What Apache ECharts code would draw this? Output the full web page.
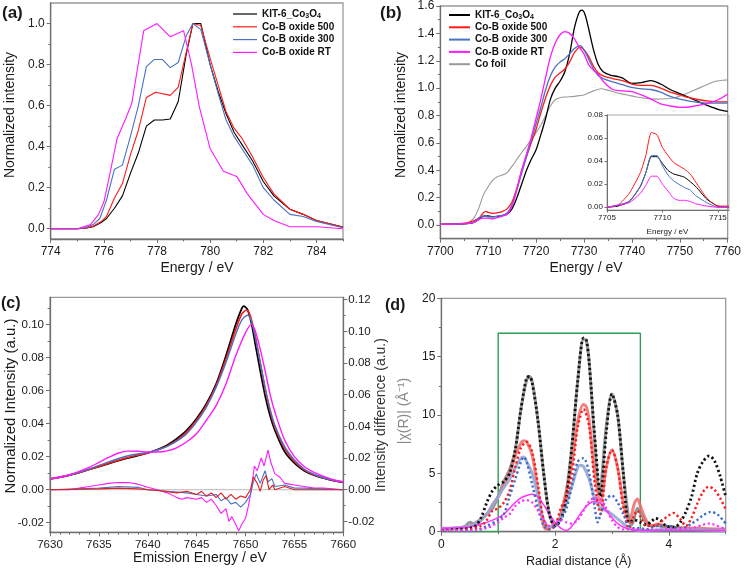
<!DOCTYPE html>
<html><head><meta charset="utf-8">
<script src="https://cdn.jsdelivr.net/npm/echarts@6/dist/echarts.min.js"></script>
<style>html,body{margin:0;padding:0;background:#fff}#c{width:744px;height:571px}</style>
</head><body><div id="c"></div>
<script>
// ---------- DATA ----------
// (a) L-edge XAS
const aKIT=[[774,0],[775,0],[775.3,0.003],[775.6,0.01],[775.9,0.03],[776.1,0.05],[776.4,0.10],[776.7,0.16],[777,0.27],[777.3,0.37],[777.6,0.50],[777.9,0.53],[778.2,0.53],[778.5,0.535],[778.8,0.62],[779.1,0.85],[779.35,1.0],[779.65,1.0],[780,0.80],[780.3,0.67],[780.6,0.56],[780.9,0.47],[781.2,0.41],[781.6,0.33],[782,0.23],[782.4,0.16],[783,0.095],[783.5,0.07],[784,0.04],[785,0.008]];
const a500=[[774,0],[775,0],[775.3,0.003],[775.6,0.012],[775.9,0.035],[776.1,0.06],[776.4,0.15],[776.7,0.22],[777,0.36],[777.3,0.48],[777.6,0.64],[777.95,0.665],[778.5,0.65],[778.8,0.69],[779.1,0.86],[779.35,1.0],[779.65,0.99],[780,0.83],[780.3,0.70],[780.6,0.57],[780.9,0.49],[781.2,0.44],[781.6,0.35],[782,0.25],[782.4,0.17],[783,0.095],[783.5,0.07],[784,0.04],[785,0.008]];
const a300=[[774,0],[775,0],[775.3,0.005],[775.6,0.02],[775.85,0.05],[776.1,0.14],[776.4,0.29],[776.7,0.31],[777,0.45],[777.3,0.60],[777.6,0.79],[777.9,0.825],[778.2,0.825],[778.5,0.785],[778.8,0.81],[779.1,0.94],[779.35,1.0],[779.65,0.97],[780,0.80],[780.3,0.66],[780.6,0.53],[780.9,0.45],[781.2,0.39],[781.6,0.31],[782,0.20],[782.4,0.14],[783,0.07],[783.5,0.06],[784,0.035],[785,0.005]];
const aRT=[[774,0],[775,0],[775.5,0.02],[775.8,0.07],[776,0.13],[776.2,0.25],[776.5,0.44],[776.8,0.53],[777.05,0.61],[777.5,0.965],[778,1.0],[778.5,0.935],[779,0.965],[779.3,0.80],[779.6,0.59],[780,0.39],[780.5,0.28],[781,0.255],[781.4,0.17],[782,0.07],[782.4,0.04],[783,0.01],[784,0.01],[785,0.0]];
// (b) K-edge XANES
const bKIT=[[7700,0.005],[7704,0.008],[7706,0.012],[7707,0.02],[7708,0.04],[7709,0.065],[7710,0.066],[7711,0.06],[7712,0.063],[7713,0.07],[7714,0.08],[7715,0.12],[7716,0.2],[7717,0.3],[7718,0.4],[7719,0.48],[7720,0.55],[7721,0.66],[7722,0.78],[7723,0.92],[7724,1.0],[7725,1.05],[7726,1.12],[7727,1.25],[7728,1.44],[7729,1.555],[7729.6,1.57],[7730.2,1.54],[7731,1.43],[7732,1.28],[7733,1.17],[7734,1.12],[7735.5,1.095],[7737,1.085],[7738,1.075],[7740,1.035],[7742,1.04],[7744,1.055],[7746,1.03],[7748,0.99],[7750,0.96],[7752,0.93],[7754,0.90],[7756,0.87],[7758,0.845],[7760,0.83]];
const b500=[[7700,0.005],[7704,0.01],[7706,0.02],[7708,0.05],[7709,0.09],[7709.5,0.10],[7710,0.092],[7711,0.085],[7712,0.09],[7713,0.10],[7714,0.12],[7715,0.17],[7716,0.27],[7717,0.40],[7718,0.50],[7719,0.60],[7720,0.70],[7721,0.82],[7722,0.93],[7723,1.02],[7724,1.08],[7725,1.11],[7726,1.14],[7727,1.19],[7728,1.26],[7729.2,1.30],[7730,1.28],[7731,1.23],[7732,1.16],[7733,1.11],[7734,1.09],[7736,1.07],[7738,1.055],[7740,1.03],[7742,1.02],[7744,1.02],[7746,1.0],[7748,0.97],[7750,0.95],[7752,0.93],[7754,0.915],[7756,0.905],[7758,0.90],[7760,0.90]];
const b300=[[7700,0.005],[7704,0.008],[7707,0.02],[7708,0.05],[7709,0.065],[7710,0.06],[7711,0.06],[7712,0.065],[7713,0.07],[7714,0.09],[7715,0.15],[7716,0.26],[7717,0.38],[7718,0.50],[7719,0.62],[7720,0.74],[7721,0.86],[7722,0.99],[7723,1.09],[7724,1.155],[7725,1.19],[7726,1.215],[7727,1.25],[7728,1.29],[7729.2,1.31],[7730,1.28],[7731,1.21],[7732,1.14],[7733,1.09],[7734,1.07],[7736,1.045],[7738,1.025],[7740,1.005],[7742,0.995],[7744,0.99],[7746,0.97],[7748,0.94],[7750,0.92],[7752,0.905],[7754,0.895],[7756,0.89],[7758,0.89],[7760,0.89]];
const bRT=[[7700,0.005],[7704,0.008],[7707,0.02],[7708,0.04],[7709,0.05],[7710,0.05],[7711,0.045],[7712,0.055],[7713,0.065],[7714,0.08],[7715,0.14],[7716,0.26],[7717,0.40],[7718,0.52],[7719,0.64],[7720,0.78],[7721,0.92],[7722,1.08],[7723,1.23],[7724,1.33],[7725,1.39],[7726,1.413],[7727,1.40],[7728,1.36],[7729,1.30],[7730,1.25],[7731,1.17],[7732,1.13],[7733,1.10],[7734,1.05],[7736,0.99],[7738,0.98],[7740,0.975],[7742,0.95],[7744,0.92],[7746,0.885],[7748,0.87],[7750,0.86],[7752,0.862],[7754,0.875],[7756,0.89],[7758,0.915],[7760,0.955]];
const bFoil=[[7700,0.005],[7705,0.01],[7706,0.02],[7707,0.05],[7708,0.12],[7709,0.22],[7710,0.28],[7711,0.33],[7712,0.355],[7713,0.365],[7714,0.385],[7715,0.43],[7716,0.48],[7717,0.53],[7718,0.575],[7719,0.625],[7720,0.675],[7721,0.73],[7722,0.80],[7723,0.87],[7724,0.915],[7725,0.93],[7726,0.935],[7728,0.94],[7729,0.945],[7730,0.95],[7732,0.98],[7733.6,0.995],[7735,0.985],[7737,0.965],[7739,0.95],[7741,0.935],[7743,0.925],[7745,0.92],[7747,0.922],[7749,0.93],[7751,0.955],[7753,0.985],[7755,1.015],[7757,1.045],[7759,1.058],[7760,1.06]];
// (b) inset: pre-edge
const iKIT=[[7705,0],[7706,0.001],[7707,0.005],[7708,0.018],[7708.5,0.03],[7709,0.044],[7709.5,0.044],[7710,0.038],[7710.5,0.032],[7711,0.029],[7712,0.026],[7713,0.018],[7714,0.007],[7715,0.001],[7716,0]];
const i500=[[7705,0],[7706,0.002],[7707,0.012],[7708,0.03],[7708.5,0.045],[7709,0.065],[7709.5,0.063],[7710,0.052],[7710.5,0.045],[7711,0.039],[7712,0.033],[7712.5,0.029],[7713,0.022],[7714,0.008],[7715,0.001],[7716,0.001]];
const i300=[[7705,0],[7707,0.005],[7708,0.018],[7708.5,0.03],[7709,0.045],[7709.5,0.045],[7710,0.036],[7710.5,0.028],[7711,0.023],[7712,0.017],[7712.5,0.015],[7713,0.01],[7714,0.004],[7715,0.0],[7716,0]];
const iRT=[[7705,0],[7707,0.004],[7708,0.012],[7708.5,0.019],[7709,0.027],[7709.5,0.027],[7710,0.02],[7710.5,0.014],[7711,0.008],[7711.5,0.006],[7712,0.006],[7712.5,0.005],[7713,0.003],[7714,0.001],[7715,0],[7716,0]];
// (c) Kbeta emission
const cKIT=[[7630,0.0065],[7632,0.0088],[7634,0.0122],[7636,0.0158],[7638,0.0192],[7640,0.0222],[7641,0.0243],[7642,0.027],[7643,0.031],[7644,0.036],[7645,0.043],[7646,0.052],[7647,0.064],[7648,0.081],[7649,0.100],[7649.5,0.108],[7649.8,0.111],[7650.2,0.109],[7650.6,0.101],[7651,0.088],[7651.5,0.072],[7652,0.057],[7652.5,0.045],[7653,0.036],[7654,0.023],[7655,0.016],[7656,0.0115],[7657,0.0088],[7658,0.007],[7659,0.0055],[7660,0.0045]];
const c500=[[7630,0.0065],[7632,0.0088],[7634,0.0122],[7636,0.016],[7638,0.0195],[7640,0.0222],[7641,0.024],[7642,0.0265],[7643,0.030],[7644,0.035],[7645,0.042],[7646,0.051],[7647,0.063],[7648,0.079],[7649,0.097],[7649.6,0.106],[7650.1,0.1087],[7650.5,0.105],[7651,0.093],[7651.5,0.077],[7652,0.061],[7652.5,0.048],[7653,0.038],[7654,0.025],[7655,0.017],[7656,0.012],[7657,0.009],[7658,0.007],[7659,0.0055],[7660,0.0045]];
const c300=[[7630,0.0065],[7632,0.0088],[7634,0.0125],[7636,0.0168],[7638,0.0205],[7640,0.0225],[7641,0.024],[7642,0.0262],[7643,0.0295],[7644,0.034],[7645,0.041],[7646,0.050],[7647,0.062],[7648,0.077],[7649,0.094],[7649.6,0.1025],[7650.2,0.1055],[7650.6,0.102],[7651,0.092],[7651.5,0.077],[7652,0.062],[7652.5,0.049],[7653,0.039],[7654,0.026],[7655,0.018],[7656,0.0125],[7657,0.0093],[7658,0.0072],[7659,0.0057],[7660,0.0046]];
const cRT=[[7630,0.0065],[7632,0.009],[7634,0.0135],[7635,0.0165],[7636,0.0195],[7637,0.0222],[7638,0.0233],[7639,0.0232],[7640,0.0228],[7641,0.0228],[7642,0.0235],[7643,0.0255],[7644,0.029],[7645,0.034],[7646,0.042],[7647,0.051],[7648,0.064],[7649,0.081],[7650,0.095],[7650.6,0.1],[7651,0.096],[7651.5,0.085],[7652,0.072],[7652.5,0.058],[7653,0.047],[7654,0.030],[7655,0.020],[7656,0.014],[7657,0.0105],[7658,0.008],[7659,0.006],[7660,0.0048]];
// (c) difference spectra (right axis)
const dRT=[[7630,0],[7632,0],[7633,0.001],[7634,0.002],[7635,0.003],[7636,0.004],[7637,0.0045],[7638,0.0045],[7639,0.0035],[7640,0.0015],[7641,0],[7642,-0.002],[7643,-0.005],[7643.5,-0.006],[7644,-0.005],[7645,-0.006],[7645.5,-0.005],[7646,-0.008],[7646.5,-0.006],[7647,-0.01],[7647.5,-0.015],[7648,-0.012],[7648.3,-0.02],[7648.6,-0.017],[7649,-0.022],[7649.3,-0.026],[7649.6,-0.022],[7650,-0.018],[7650.3,-0.01],[7650.6,0],[7650.9,0.015],[7651.2,0.012],[7651.6,0.02],[7651.9,0.015],[7652.3,0.025],[7652.6,0.017],[7653,0.01],[7653.5,0.008],[7654,0.004],[7655,0.003],[7656,0.002],[7657,0.001],[7658,0.001],[7660,0]];
const d300=[[7630,0],[7635,0.001],[7637,0.002],[7639,0.0015],[7640,0],[7642,-0.001],[7644,-0.002],[7645,-0.003],[7646,-0.004],[7647,-0.003],[7647.5,-0.007],[7648,-0.005],[7648.5,-0.009],[7649,-0.008],[7649.5,-0.011],[7650,-0.008],[7650.5,-0.003],[7650.8,0.005],[7651.1,0.01],[7651.5,0.004],[7652,0.012],[7652.3,0.005],[7652.7,0.007],[7653,0.002],[7654,0.003],[7655,0.001],[7656,0.001],[7660,0]];
const d500=[[7630,0],[7635,0.0005],[7637,0.001],[7639,0.0005],[7641,-0.0005],[7643,-0.002],[7644,-0.001],[7645,-0.003],[7645.5,-0.001],[7646,-0.004],[7646.5,-0.002],[7647,-0.005],[7647.5,-0.002],[7648,-0.006],[7648.5,-0.003],[7649,-0.006],[7649.5,-0.004],[7650,-0.005],[7650.5,0],[7650.8,0.008],[7651.2,0.004],[7651.5,-0.001],[7651.8,0.006],[7652.1,0.009],[7652.4,0],[7652.8,0.003],[7653,0],[7654,0.002],[7655,0],[7660,0]];
const dZero=[[7630,0],[7660,0]];
// (d) FT-EXAFS |chi(R)|: solid = data, dotted = fits
const rKIT=[[0,0.2],[0.2,0.3],[0.4,0.4],[0.5,0.8],[0.6,0.6],[0.7,1.0],[0.8,1.5],[0.9,2.0],[1.0,3.0],[1.1,4.3],[1.2,5.3],[1.3,7.0],[1.4,10.5],[1.5,13.0],[1.55,13.3],[1.6,12.8],[1.7,9.5],[1.8,5.0],[1.9,1.5],[2.0,0.5],[2.1,1.2],[2.2,3.5],[2.3,7.5],[2.4,13.0],[2.5,16.5],[2.55,16.4],[2.6,14.5],[2.7,7.5],[2.78,3.2],[2.9,9.0],[3.0,11.8],[3.1,10.0],[3.2,5.0],[3.3,1.0],[3.35,0.6],[3.45,2.0],[3.55,1.2],[3.65,0.5],[3.8,0.5],[4.0,0.3],[4.5,0.2],[5.0,0.1]];
const r500=[[0,0.2],[0.5,0.5],[0.8,1.5],[0.9,2.3],[1.0,3.0],[1.1,4.0],[1.2,5.0],[1.3,6.5],[1.4,7.6],[1.45,7.8],[1.5,7.7],[1.6,6.5],[1.7,3.5],[1.8,0.5],[1.85,0.2],[1.95,0.5],[2.05,0.7],[2.1,1.5],[2.2,3.5],[2.3,6.0],[2.4,9.5],[2.5,10.9],[2.55,10.7],[2.6,9.5],[2.7,5.0],[2.8,2.5],[2.9,5.5],[3.0,7.0],[3.1,5.5],[3.2,2.5],[3.3,0.8],[3.4,2.5],[3.45,2.8],[3.5,2.2],[3.6,1.0],[3.7,0.5],[3.8,0.65],[3.9,0.55],[4.0,0.4],[4.5,0.3],[5.0,0.2]];
const r300=[[0,0.3],[0.5,0.5],[0.8,1.5],[0.9,2.3],[1.0,3.0],[1.1,3.8],[1.2,4.5],[1.3,5.5],[1.4,6.3],[1.45,6.4],[1.5,6.0],[1.6,5.0],[1.7,3.0],[1.8,1.0],[1.9,0.4],[2.0,0.5],[2.1,1.2],[2.2,2.5],[2.3,4.0],[2.4,5.5],[2.45,5.7],[2.5,5.6],[2.6,4.5],[2.7,2.8],[2.8,2.0],[2.9,1.8],[3.0,1.5],[3.1,1.1],[3.2,0.7],[3.3,0.3],[3.5,0.1],[4.0,0.2],[5.0,0.1]];
const rRT=[[0,0.3],[0.5,0.4],[0.8,0.8],[1.0,1.2],[1.1,1.5],[1.2,2.0],[1.3,2.5],[1.4,2.9],[1.5,3.1],[1.6,3.2],[1.7,3.0],[1.8,2.3],[1.9,1.5],[2.0,0.8],[2.1,0.3],[2.2,0.1],[2.3,0.5],[2.4,1.2],[2.5,1.9],[2.6,2.4],[2.7,2.6],[2.8,2.4],[2.9,1.8],[3.0,1.2],[3.1,0.7],[3.2,0.4],[3.3,0.2],[3.5,0.1],[5.0,0.1]];
const fKIT=[[0,0.1],[0.3,0.2],[0.5,0.3],[0.6,0.5],[0.7,1.2],[0.8,2.5],[0.9,3.5],[1.0,4.0],[1.1,4.3],[1.2,5.0],[1.3,7.0],[1.4,10.5],[1.5,13.2],[1.55,13.3],[1.6,12.7],[1.7,9.5],[1.8,5.0],[1.9,1.5],[2.0,0.5],[2.1,1.0],[2.2,3.0],[2.3,7.5],[2.4,13.0],[2.5,16.6],[2.55,16.4],[2.6,14.5],[2.7,8.0],[2.8,3.0],[2.9,8.5],[3.0,11.8],[3.1,10.0],[3.2,5.0],[3.3,0.8],[3.4,1.0],[3.5,0.8],[3.6,0.6],[3.7,0.9],[3.76,1.15],[3.85,1.0],[3.95,0.5],[4.1,0.4],[4.2,0.8],[4.3,1.7],[4.4,3.0],[4.5,5.0],[4.6,6.0],[4.71,6.5],[4.8,6.1],[4.9,4.8],[5.0,3.0]];
const f500=[[0,0.1],[0.5,0.2],[0.7,0.5],[0.8,1.0],[0.9,1.8],[1.0,2.0],[1.1,2.5],[1.2,3.5],[1.3,5.5],[1.4,7.2],[1.5,7.7],[1.6,6.8],[1.7,4.0],[1.8,1.0],[1.9,0.2],[2.0,0.5],[2.1,2.0],[2.2,3.0],[2.3,5.0],[2.4,9.0],[2.5,10.5],[2.6,9.0],[2.7,4.0],[2.8,1.5],[2.9,5.5],[3.0,7.0],[3.1,5.5],[3.2,2.0],[3.3,0.3],[3.4,1.5],[3.45,1.8],[3.5,1.3],[3.6,0.5],[3.7,0.5],[3.8,0.6],[3.9,1.0],[4.0,1.4],[4.08,1.6],[4.2,1.1],[4.3,0.5],[4.4,1.2],[4.5,2.4],[4.6,3.4],[4.7,3.85],[4.8,3.6],[4.9,2.9],[5.0,1.9]];
const f300=[[0,0.1],[0.6,0.1],[0.8,0.5],[1.0,1.0],[1.1,1.5],[1.2,3.0],[1.3,4.5],[1.4,6.0],[1.45,6.4],[1.5,6.0],[1.6,4.0],[1.7,2.0],[1.8,0.5],[1.9,0.2],[2.0,0.5],[2.1,1.0],[2.2,2.0],[2.3,4.0],[2.4,6.0],[2.5,6.3],[2.6,5.0],[2.7,2.0],[2.75,0.8],[2.8,1.5],[2.9,2.8],[3.0,3.1],[3.1,2.5],[3.2,1.5],[3.3,0.5],[3.4,0.3],[3.5,0.3],[3.6,0.2],[3.8,0.5],[4.0,0.5],[4.2,0.3],[4.3,0.4],[4.4,0.7],[4.5,1.0],[4.6,1.4],[4.74,1.7],[4.85,1.5],[4.95,1.0],[5.0,0.7]];
const fRT=[[0,0.1],[0.5,0.1],[0.8,0.3],[1.0,0.8],[1.1,1.2],[1.2,1.5],[1.3,2.2],[1.4,2.6],[1.5,2.7],[1.6,2.5],[1.7,1.8],[1.8,1.0],[1.9,0.5],[2.0,0.8],[2.1,1.0],[2.2,0.8],[2.3,0.7],[2.4,1.0],[2.5,1.8],[2.6,2.6],[2.7,2.9],[2.8,2.8],[2.9,2.0],[3.0,1.0],[3.1,0.4],[3.2,0.2],[3.4,0.2],[3.6,0.1],[4.0,0.2],[4.4,0.3],[4.6,0.6],[4.7,0.7],[4.8,0.6],[5.0,0.2]];
const rWindow=[[0,0],[1,0],[1,17],[3.5,17],[3.5,0],[5,0]];
// tick values
const aXTicks=[774,776,778,780,782,784], aXMinor=[775,777,779,781,783,785];
const aYTicks=[0,0.2,0.4,0.6,0.8,1.0], aYMinor=[0.1,0.3,0.5,0.7,0.9];
const bXTicks=[7700,7710,7720,7730,7740,7750,7760], bXMinor=[7705,7715,7725,7735,7745,7755];
const bYTicks=[0,0.2,0.4,0.6,0.8,1.0,1.2,1.4,1.6], bYMinor=[0.1,0.3,0.5,0.7,0.9,1.1,1.3,1.5];
const iXTicks=[7705,7710,7715], iYTicks=[0,0.02,0.04,0.06,0.08];
const cXTicks=[7630,7635,7640,7645,7650,7655,7660];
const cXMinor=[7631,7632,7633,7634,7636,7637,7638,7639,7641,7642,7643,7644,7646,7647,7648,7649,7651,7652,7653,7654,7656,7657,7658,7659];
const cYTicks=[-0.02,0,0.02,0.04,0.06,0.08,0.10], cYMinor=[-0.01,0.01,0.03,0.05,0.07,0.09,0.11];
const cY2Ticks=[-0.02,0,0.02,0.04,0.06,0.08,0.10,0.12], cY2Minor=[-0.01,0.01,0.03,0.05,0.07,0.09,0.11];
const dXTicks=[0,2,4], dXMinor=[1,3,5];
const dYTicks=[0,5,10,15,20], dYMinor=[2.5,7.5,12.5,17.5];

// ---------- CHART ----------
const FONT="'Liberation Sans', Arial, Helvetica, sans-serif";
const AX='#707070';
const C={k:'#000000',r:'#ff1a1a',b:'#4a72c2',m:'#ff1aff',g:'#9a9a9a'};
const xAxes=[], yAxes=[];
function addAxis(list,o){
  const idx=list.length;
  list.push({type:'value',gridIndex:o.grid,min:o.min,max:o.max,position:o.pos,
    axisLine:{show:true,onZero:false,lineStyle:{color:AX,width:o.lw||1.3}},
    axisTick:{show:true,inside:false,length:o.tl||4,customValues:o.major,lineStyle:{color:AX,width:1}},
    axisLabel:{show:true,customValues:o.major,fontSize:o.fs,color:'#1a1a1a',margin:o.margin,fontFamily:FONT,formatter:o.fmt},
    splitLine:{show:false},minorTick:{show:false},axisPointer:{show:false}});
  if(o.minor){
    list.push({type:'value',gridIndex:o.grid,min:o.min,max:o.max,position:o.pos,
      axisLine:{show:false,onZero:false},axisLabel:{show:false},splitLine:{show:false},
      axisTick:{show:true,inside:false,length:(o.tl||4)*0.6,customValues:o.minor,lineStyle:{color:AX,width:1}}});
  }
  return idx;
}
const f0=v=>String(Math.round(v)), f1=v=>v.toFixed(1), f2=v=>v.toFixed(2);
const xa=addAxis(xAxes,{grid:0,min:774,max:785,major:aXTicks,minor:aXMinor,pos:'bottom',fs:12,margin:7,fmt:f0});
const ya=addAxis(yAxes,{grid:0,min:-0.05,max:1.1,major:aYTicks,minor:aYMinor,pos:'left',fs:12,margin:6,fmt:f1});
const xb=addAxis(xAxes,{grid:1,min:7700,max:7760,major:bXTicks,minor:bXMinor,pos:'bottom',fs:12,margin:7,fmt:f0});
const yb=addAxis(yAxes,{grid:1,min:-0.1,max:1.6,major:bYTicks,minor:bYMinor,pos:'left',fs:12,margin:6,fmt:f1});
const xi=addAxis(xAxes,{grid:2,min:7705,max:7716,major:iXTicks,pos:'bottom',fs:8,margin:4,tl:2.5,lw:1,fmt:f0});
const yi=addAxis(yAxes,{grid:2,min:-0.0024,max:0.0802,major:iYTicks,pos:'left',fs:8,margin:4,tl:2.5,lw:1,fmt:f2});
const xc=addAxis(xAxes,{grid:3,min:7630,max:7660,major:cXTicks,minor:cXMinor,pos:'bottom',fs:11.5,margin:7,fmt:f0});
const yc=addAxis(yAxes,{grid:3,min:-0.0258,max:0.1164,major:cYTicks,minor:cYMinor,pos:'left',fs:11.5,margin:6,fmt:f2});
const yc2=addAxis(yAxes,{grid:3,min:-0.0269,max:0.1215,major:cY2Ticks,minor:cY2Minor,pos:'right',fs:11.5,margin:5,fmt:f2});
const xd=addAxis(xAxes,{grid:4,min:0,max:5,major:dXTicks,minor:dXMinor,pos:'bottom',fs:12,margin:7,fmt:f0});
const yd=addAxis(yAxes,{grid:4,min:0,max:20,major:dYTicks,minor:dYMinor,pos:'left',fs:12,margin:6,fmt:f0});

function L(name,x,y,data,color,width,opt){
  opt=opt||{};
  return {type:'line',name,xAxisIndex:x,yAxisIndex:y,data,symbol:'none',showSymbol:false,smooth:opt.smooth||false,
    lineStyle:{color,width,type:opt.type||'solid',opacity:opt.op==null?1:opt.op,cap:opt.cap||'butt'},
    itemStyle:{color},z:opt.z||2,silent:true,animation:false};
}
const NK='KIT-6_Co3O4',N5='Co-B oxide 500',N3='Co-B oxide 300',NR='Co-B oxide RT',NF='Co foil';
const series=[
  L(NK,xa,ya,aKIT,C.k,1.1), L(N5,xa,ya,a500,C.r,1.1), L(N3,xa,ya,a300,C.b,1.1), L(NR,xa,ya,aRT,C.m,1.1),
  L(NF,xb,yb,bFoil,C.g,1.1,{smooth:0.3}), L(NK,xb,yb,bKIT,C.k,1.3,{smooth:0.3}), L(N5,xb,yb,b500,C.r,1.3,{smooth:0.3}),
  L(N3,xb,yb,b300,C.b,1.3,{smooth:0.3}), L(NR,xb,yb,bRT,C.m,1.3,{smooth:0.3}),
  L('iK',xi,yi,iKIT,C.k,1,{smooth:0.2}), L('i5',xi,yi,i500,C.r,1,{smooth:0.2}), L('i3',xi,yi,i300,C.b,1,{smooth:0.2}), L('iR',xi,yi,iRT,C.m,1,{smooth:0.2}),
  L('c0',xc,yc2,dZero,'#c8c8c8',1.2),
  L('cK',xc,yc,cKIT,C.k,1.8,{smooth:0.3}), L('c5',xc,yc,c500,C.r,1.6,{smooth:0.3}), L('c3',xc,yc,c300,C.b,1.4,{smooth:0.3}), L('cR',xc,yc,cRT,C.m,1.4,{smooth:0.3}),
  L('dR',xc,yc2,dRT,C.m,1.1), L('d3',xc,yc2,d300,C.b,1.1), L('d5',xc,yc2,d500,'#e02020',1.1),
  L('win',xd,yd,rWindow,'#2e9e55',1.4,{z:1}),
  L('rK',xd,yd,rKIT,'#8a8a8a',3,{smooth:0.3,op:0.9}), L('r5',xd,yd,r500,'#f06a6a',3,{smooth:0.3,op:0.85}),
  L('r3',xd,yd,r300,'#94a9d6',3,{smooth:0.3,op:0.9}), L('rR',xd,yd,rRT,'#ff33ff',1.5,{smooth:0.3}),
  L('fK',xd,yd,fKIT,'#111111',2.8,{smooth:0.3,type:[2.2,2.6],z:3}), L('f5',xd,yd,f500,'#ff1a1a',2.4,{smooth:0.3,type:[2.2,2.6],z:3}),
  L('f3',xd,yd,f300,'#3f6cc4',2.4,{smooth:0.3,type:[2.2,2.6],z:3}), L('fR',xd,yd,fRT,'#ff33ff',2.2,{smooth:0.3,type:[2.2,2.6],z:3})
];
const legFmt=n=>n===NK?'KIT-6_Co{s|3}O{s|4}':n;
const legText={fontFamily:FONT,fontSize:10,fontWeight:'bold',color:'#111',lineHeight:12,
  rich:{s:{fontFamily:FONT,fontSize:7,fontWeight:'bold',color:'#111',padding:[5,0,0,0]}}};
function T(text,x,y,size,opt){
  opt=opt||{};
  return {type:'text',x,y,rotation:opt.rot||0,silent:true,z:10,
    style:{text,fill:opt.color||'#1a1a1a',font:(opt.bold?'bold ':'')+size+'px '+FONT,align:opt.align||'center',verticalAlign:opt.va||'middle'}};
}
const R90=Math.PI/2;
const option={
  animation:false,backgroundColor:'#fff',
  grid:[
    {left:50.7,top:3,width:292.3,height:236,show:true,borderColor:'#9a9a9a',borderWidth:1.3,backgroundColor:'transparent'},
    {left:440.3,top:3.3,width:291.2,height:235.4,show:true,borderColor:'#9a9a9a',borderWidth:1.3,backgroundColor:'transparent'},
    {left:607,top:115,width:122,height:95,show:true,borderColor:'#a8a8a8',borderWidth:1,backgroundColor:'transparent'},
    {left:50,top:297.3,width:293.3,height:235,show:true,borderColor:'#9a9a9a',borderWidth:1.3,backgroundColor:'transparent'},
    {left:441.3,top:298.3,width:284.4,height:233.4,show:true,borderColor:'#9a9a9a',borderWidth:1.3,backgroundColor:'transparent'}
  ],
  xAxis:xAxes,yAxis:yAxes,series,
  legend:[
    {data:[NK,N5,N3,NR],left:233,top:8,orient:'vertical',icon:'rect',itemWidth:24,itemHeight:1.2,itemGap:0.8,padding:0,
     formatter:legFmt,textStyle:legText,selectedMode:false},
    {data:[NK,N5,N3,NR,NF],left:449,top:9,orient:'vertical',icon:'rect',itemWidth:21,itemHeight:2,itemGap:0.3,padding:0,
     formatter:legFmt,textStyle:legText,selectedMode:false}
  ],
  graphic:[
    T('(a)',2,13,17,{bold:true,align:'left'}),
    T('(b)',380,13,17,{bold:true,align:'left'}),
    T('(c)',1,304,16,{bold:true,align:'left'}),
    T('(d)',385,306,16,{bold:true,align:'left'}),
    T('Energy / eV',197,268,14),
    T('Normalized intensity',10,115,14,{rot:R90}),
    T('Energy / eV',586,268,14),
    T('Normalized intensity',401,115,14,{rot:R90}),
    T('Energy / eV',667.5,232,8),
    T('Emission Energy / eV',200,558,14),
    T('Normalized Intensity (a.u.)',10.5,406,15,{rot:R90}),
    T('Intensity difference (a.u.)',381.5,415,14,{rot:R90,color:'#333'}),
    T('|χ(R)| (Å⁻¹)',404,411,14,{rot:R90,color:'#888'}),
    T('Radial distance (Å)',578.7,562,12.5)
  ]
};
const chart=echarts.init(document.getElementById('c'),null,{renderer:'canvas'});
chart.setOption(option);
</script></body></html>
